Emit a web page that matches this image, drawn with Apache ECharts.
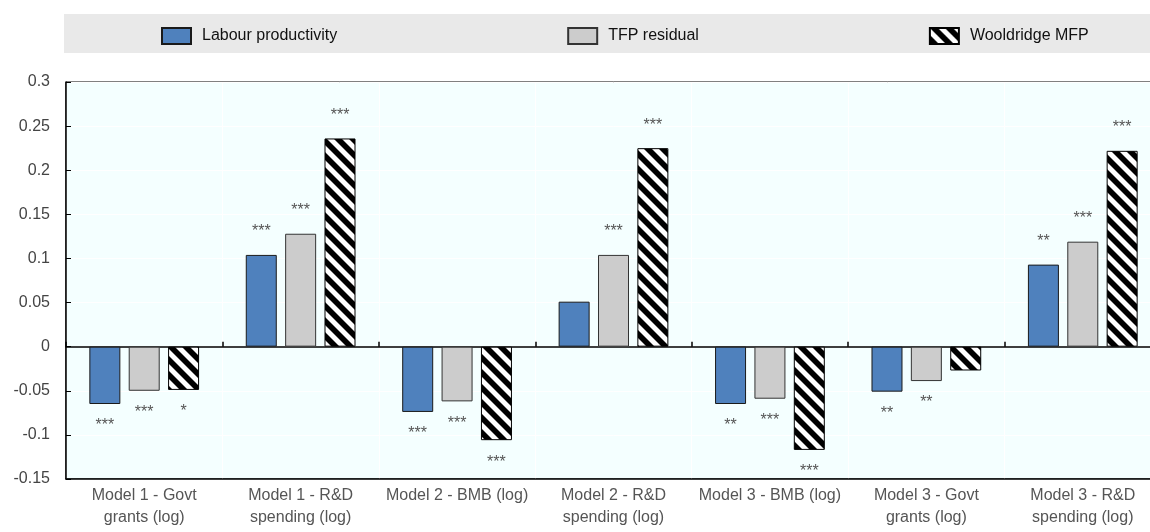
<!DOCTYPE html>
<html>
<head>
<meta charset="utf-8">
<script src="https://cdn.jsdelivr.net/npm/echarts@6/dist/echarts.min.js"></script>
<style>
  html, body { margin: 0; padding: 0; background: #ffffff; overflow: hidden; }
  /* the last category runs slightly past the right edge of the page */
  #chart { width: 1175px; height: 532px; }
</style>
</head>
<body>
<div id="chart"></div>
<script>
// Estimated coefficients by model specification
const categories = [
  'Model 1 - Govt\ngrants (log)',
  'Model 1 - R&D\nspending (log)',
  'Model 2 - BMB (log)',
  'Model 2 - R&D\nspending (log)',
  'Model 3 - BMB (log)',
  'Model 3 - Govt\ngrants (log)',
  'Model 3 - R&D\nspending (log)'
];
const labourProductivity = [-0.065, 0.104, -0.074, 0.051, -0.065, -0.051, 0.093];
const tfpResidual        = [-0.050, 0.128, -0.062, 0.104, -0.059, -0.039, 0.119];
const wooldridgeMfp      = [-0.049, 0.236, -0.106, 0.225, -0.117, -0.027, 0.222];

// Significance stars
const sigLabour     = ['***', '***', '***', '', '**', '**', '**'];
const sigTfp        = ['***', '***', '***', '***', '***', '**', '***'];
const sigWooldridge = ['*', '***', '***', '***', '***', '', '***'];

const yTicks = { min: -0.15, max: 0.3, interval: 0.05 };

const FONT = '"Liberation Sans", Arial, sans-serif';

// Diagonal black-and-white stripe fill (top-left to bottom-right)
function stripePattern() {
  const size = 30;
  const period = 15;
  const band = 8;
  const c = document.createElement('canvas');
  c.width = size; c.height = size;
  const ctx = c.getContext('2d');
  ctx.fillStyle = '#ffffff';
  ctx.fillRect(0, 0, size, size);
  ctx.fillStyle = '#000000';
  for (let o = -2 * size; o <= 2 * size; o += period) {
    ctx.beginPath();
    ctx.moveTo(o, 0);
    ctx.lineTo(o + band, 0);
    ctx.lineTo(o + band + size, size);
    ctx.lineTo(o + size, size);
    ctx.closePath();
    ctx.fill();
  }
  return { image: c, repeat: 'repeat' };
}

function barData(values, stars) {
  return values.map((v, i) => ({
    value: v,
    label: {
      position: v >= 0 ? 'top' : 'bottom',
      distance: v >= 0 ? 15 : 14,
      formatter: stars[i]
    }
  }));
}

const starLabel = {
  show: true,
  color: '#555555',
  fontFamily: FONT,
  fontSize: 16
};

const chart = echarts.init(document.getElementById('chart'), null, { renderer: 'canvas' });

chart.setOption({
  animation: false,
  backgroundColor: '#ffffff',
  graphic: [{
    type: 'rect',
    z: 0,
    shape: { x: 64, y: 14, width: 1111, height: 39 },
    style: { fill: '#e9e9e9' }
  }],
  legend: {
    top: 22,
    left: 156,
    itemWidth: 29,
    itemHeight: 16,
    itemGap: 230,
    icon: 'rect',
    textStyle: { fontFamily: FONT, fontSize: 16, color: '#111111', padding: [0, 0, 0, 6] },
    data: ['Labour productivity', 'TFP residual', 'Wooldridge MFP']
  },
  grid: {
    left: 66,
    top: 82,
    width: 1095,
    height: 397,
    show: true,
    backgroundColor: '#f4ffff',
    borderColor: '#000000',
    borderWidth: 1
  },
  xAxis: [{
    type: 'category',
    data: categories,
    position: 'bottom',
    axisLine: { onZero: false, lineStyle: { color: '#000000', width: 1.5 } },
    axisTick: { show: false },
    splitLine: { show: true, lineStyle: { color: '#ffffff', width: 1 } },
    axisLabel: {
      interval: 0,
      margin: 6,
      lineHeight: 22,
      fontFamily: FONT,
      fontSize: 16,
      color: '#555555'
    }
  }, {
    type: 'category',
    data: categories,
    position: 'top',
    axisLine: { onZero: true, lineStyle: { color: '#000000', width: 1.5 } },
    axisTick: { show: true, inside: false, length: 5, lineStyle: { color: '#000000', width: 1.5 } },
    axisLabel: { show: false },
    splitLine: { show: false }
  }],
  yAxis: {
    type: 'value',
    min: yTicks.min,
    max: yTicks.max,
    interval: yTicks.interval,
    axisLine: { show: true, lineStyle: { color: '#000000', width: 1.5 } },
    axisTick: { show: true, inside: true, length: 5, lineStyle: { color: '#000000' } },
    splitLine: { show: true, lineStyle: { color: '#ffffff', width: 1 } },
    axisLabel: {
      margin: 16,
      fontFamily: FONT,
      fontSize: 16,
      color: '#444444',
      formatter: v => String(parseFloat(v.toFixed(2)))
    }
  },
  series: [{
    name: 'Labour productivity',
    type: 'bar',
    xAxisIndex: 0,
    barWidth: 31,
    barGap: '27%',
    itemStyle: { color: '#4f81bd', borderColor: '#1a1a1a', borderWidth: 1 },
    label: starLabel,
    data: barData(labourProductivity, sigLabour)
  }, {
    name: 'TFP residual',
    type: 'bar',
    xAxisIndex: 0,
    barWidth: 31,
    barGap: '27%',
    itemStyle: { color: '#cccccc', borderColor: '#333333', borderWidth: 1 },
    label: starLabel,
    data: barData(tfpResidual, sigTfp)
  }, {
    name: 'Wooldridge MFP',
    type: 'bar',
    xAxisIndex: 0,
    barWidth: 31,
    barGap: '27%',
    itemStyle: { color: stripePattern(), borderColor: '#000000', borderWidth: 1 },
    label: starLabel,
    data: barData(wooldridgeMfp, sigWooldridge)
  }]
});
</script>
</body>
</html>
